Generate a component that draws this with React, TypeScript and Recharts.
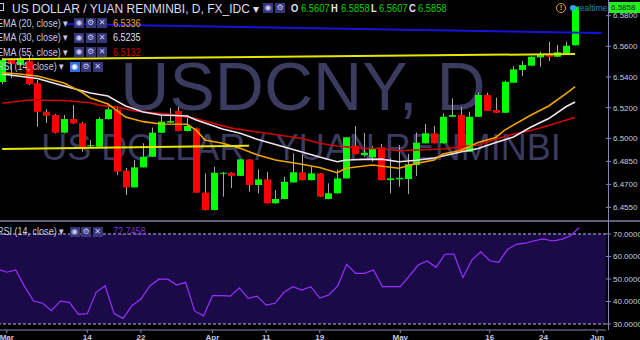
import React from "react";
import {
  ComposedChart,
  LineChart,
  Bar,
  Line,
  XAxis,
  YAxis,
  ReferenceLine,
  ReferenceArea,
} from "recharts";

// daily candles, one slot per weekday (Feb 29 .. May 30)
const opens = [
  6.5367, 6.5511, 6.5478, 6.5504, 6.5359, 6.5174, 6.5152, 6.5037, 6.5126, 6.5098,
  6.4952, 6.4946, 6.5126, 6.5189, 6.4789, 6.4681, 6.4811, 6.488, 6.5037, 6.5103,
  6.5178, 6.5048, 6.5065, 6.4646, 6.4533, 6.4771, 6.4776, 6.4756, 6.4863, 6.4696,
  6.4733, 6.4577, 6.4605, 6.4713, 6.4779, 6.4728, 6.4772, 6.4605, 6.4642, 6.4739,
  6.4952, 6.4891, 6.4876, 6.4942, 6.4728, 6.4733, 6.4735, 6.4826, 6.4968, 6.5033,
  6.4968, 6.5141, 6.5152, 6.4913, 6.5141, 6.5283, 6.5185, 6.5167, 6.5363, 6.5446,
  6.5474, 6.5528, 6.5543, 6.5532, 6.5554, 6.5607,
];
const highs = [
  6.5524, 6.5524, 6.553, 6.5543, 6.538, 6.5191, 6.5159, 6.5152, 6.5217, 6.5107,
  6.4989, 6.5139, 6.5217, 6.5208, 6.4807, 6.4859, 6.4968, 6.5071, 6.5152, 6.5198,
  6.5206, 6.5152, 6.5071, 6.4772, 6.4815, 6.4781, 6.4779, 6.4865, 6.4865, 6.4798,
  6.4782, 6.4663, 6.475, 6.4902, 6.4898, 6.4815, 6.4774, 6.4707, 6.4798, 6.5009,
  6.508, 6.5035, 6.495, 6.4963, 6.487, 6.4957, 6.4898, 6.5039, 6.5094, 6.508,
  6.5163, 6.5261, 6.5206, 6.5174, 6.5298, 6.5298, 6.5265, 6.5376, 6.5472, 6.5504,
  6.5535, 6.5565, 6.563, 6.5609, 6.563, 6.586,
];
const lows = [
  6.5354, 6.5393, 6.5472, 6.5348, 6.5076, 6.51, 6.5032, 6.5032, 6.5094, 6.4913,
  6.4937, 6.4944, 6.5123, 6.4761, 6.4631, 6.468, 6.481, 6.4878, 6.5035, 6.51,
  6.5045, 6.5045, 6.4644, 6.453, 6.453, 6.462, 6.4676, 6.4754, 6.4652, 6.4642,
  6.4575, 6.4575, 6.4603, 6.4712, 6.4725, 6.4726, 6.4618, 6.4603, 6.464, 6.4738,
  6.4896, 6.488, 6.4848, 6.4726, 6.4642, 6.4685, 6.4637, 6.4754, 6.4966, 6.4966,
  6.4966, 6.5139, 6.4917, 6.4911, 6.5139, 6.5178, 6.5165, 6.5165, 6.5361, 6.5406,
  6.5472, 6.5467, 6.5504, 6.553, 6.5553, 6.5605,
];
const closes = [
  6.5511, 6.5485, 6.5511, 6.5354, 6.5174, 6.5148, 6.5037, 6.5126, 6.5098, 6.4935,
  6.4955, 6.5126, 6.5189, 6.4783, 6.4681, 6.4811, 6.488, 6.5037, 6.5109, 6.5113,
  6.5048, 6.5081, 6.4646, 6.4533, 6.4776, 6.4776, 6.4756, 6.4863, 6.4696, 6.4733,
  6.4577, 6.4605, 6.4717, 6.4779, 6.4728, 6.4772, 6.462, 6.4642, 6.4739, 6.5007,
  6.4898, 6.4906, 6.4935, 6.4728, 6.4739, 6.4743, 6.4831, 6.4972, 6.5033, 6.4968,
  6.5141, 6.5152, 6.4919, 6.5141, 6.5283, 6.518, 6.5167, 6.5369, 6.545, 6.5478,
  6.5532, 6.5543, 6.5532, 6.5561, 6.5604, 6.5858,
];

const rsiValues = [
  54.4, 53.0, 54.0, 46.6, 40.2, 39.2, 35.9, 40.2, 39.6, 34.3,
  34.6, 44.1, 47.0, 34.6, 32.5, 38.1, 41.1, 46.9, 49.9, 49.9,
  47.3, 48.5, 35.8, 33.6, 42.6, 42.6, 42.4, 46.1, 41.4, 42.4,
  38.4, 39.2, 44.1, 46.6, 45.1, 46.6, 41.5, 42.9, 46.9, 56.5,
  52.5, 52.5, 54.0, 46.6, 46.6, 46.6, 51.3, 56.2, 58.0, 55.2,
  61.0, 61.1, 50.6, 58.4, 62.1, 58.1, 57.4, 63.2, 65.4, 65.9,
  67.0, 67.8, 66.9, 67.6, 69.1, 72.75,
];

// moving averages, read at the slots listed
const ema20Idx = [0, 2, 4, 7, 9, 10, 12, 14, 16, 18, 21, 22, 23, 25, 27, 29, 31, 34, 36, 38, 39, 42, 45, 47, 49, 50, 52, 54, 56, 57, 60, 62, 64, 65];
const ema20Val = [6.5428, 6.542, 6.5407, 6.5361, 6.5302, 6.5263, 6.5224, 6.5139, 6.5109, 6.5094, 6.5092, 6.5054, 6.4989, 6.4968, 6.4935, 6.4891, 6.4859, 6.4831, 6.481, 6.4776, 6.4805, 6.4826, 6.4805, 6.4837, 6.4859, 6.4898, 6.4921, 6.4973, 6.5006, 6.5054, 6.5152, 6.5211, 6.5294, 6.5337];
const ema30Idx = [0, 4, 7, 10, 12, 13, 14, 16, 18, 21, 22, 23, 25, 27, 29, 32, 34, 36, 38, 39, 41, 43, 45, 47, 49, 52, 54, 56, 58, 60, 62, 64, 65];
const ema30Val = [6.542, 6.539, 6.5341, 6.5296, 6.5276, 6.5243, 6.5211, 6.5172, 6.5152, 6.5146, 6.512, 6.51, 6.5061, 6.5033, 6.4992, 6.4944, 6.4911, 6.4878, 6.4848, 6.4859, 6.4863, 6.4865, 6.4848, 6.4857, 6.4872, 6.4911, 6.4934, 6.4973, 6.5009, 6.5074, 6.5129, 6.5208, 6.5237];
const ema55Idx = [0, 3, 7, 10, 11, 13, 15, 19, 22, 23, 26, 30, 34, 36, 38, 41, 43, 45, 47, 50, 52, 54, 56, 58, 60, 62, 64, 65];
const ema55Val = [6.5229, 6.525, 6.5247, 6.5232, 6.5217, 6.5204, 6.5178, 6.5157, 6.5129, 6.5113, 6.5067, 6.5033, 6.4999, 6.4968, 6.495, 6.4935, 6.4934, 6.4919, 6.4924, 6.4931, 6.4946, 6.4957, 6.4994, 6.5028, 6.5051, 6.5084, 6.512, 6.5136];

// drawn trend lines (slot, price)
const upperLineIdx = [0, 65];
const upperLineVal = [6.5515, 6.555];
const lowerLineIdx = [0, 28];
const lowerLineVal = [6.4931, 6.4952];
const blueLineIdx = [7, 68];
const blueLineVal = [6.5746, 6.5687];

const priceTicks = [6.455, 6.47, 6.485, 6.5, 6.52, 6.54, 6.56, 6.58];
const rsiTicks = [30, 40, 50, 60, 70];
const dateTickIdx = [1, 10, 16, 24, 30, 36, 45, 55, 61, 67];
const dateTickLabels = ["Mar", "14", "22", "Apr", "11", "19", "May", "16", "24", "Jun"];
const SLOTS = 69;

const pick = (idx: number[], val: number[], i: number) => {
  const k = idx.indexOf(i);
  return k < 0 ? null : val[k];
};

const data = Array.from({ length: SLOTS }, (_, i) => ({
  i,
  o: opens[i] ?? null,
  h: highs[i] ?? null,
  l: lows[i] ?? null,
  c: closes[i] ?? null,
  rsi: rsiValues[i] ?? null,
  e20: pick(ema20Idx, ema20Val, i),
  e30: pick(ema30Idx, ema30Val, i),
  e55: pick(ema55Idx, ema55Val, i),
  tu: pick(upperLineIdx, upperLineVal, i),
  tl: pick(lowerLineIdx, lowerLineVal, i),
  tb: pick(blueLineIdx, blueLineVal, i),
}));

const AXIS = "#8585b5";
const LABEL = "#c8c8e4";
const FONT = "'Liberation Sans', Arial, sans-serif";

function Candle(props: any) {
  const { x, y, width, height, payload } = props;
  if (!payload || payload.o == null) return null;
  const { o, h, l, c } = payload;
  const top = Math.min(y, y + height);
  const bottom = Math.max(y, y + height);
  const k = (bottom - top) / (h - l);
  const cx = Math.round(x + width / 2) + 0.5;
  const yO = top + (h - o) * k;
  const yC = top + (h - c) * k;
  const bTop = Math.min(yO, yC);
  const bH = Math.max(1, Math.abs(yO - yC));
  return (
    <g>
      <line x1={cx} x2={cx} y1={top} y2={bottom} stroke="#a8a8a8" strokeWidth={1} />
      <rect x={cx - 3.5} y={bTop} width={7} height={bH} fill={c >= o ? "#00ff00" : "#ff0000"} />
    </g>
  );
}

function Txt({ x, y, size = 11, color = LABEL, bold = false, sx = 1, children }: any) {
  return (
    <div
      style={{
        position: "absolute",
        left: x,
        top: y,
        fontSize: size,
        lineHeight: `${size}px`,
        color,
        fontWeight: bold ? 700 : 400,
        whiteSpace: "nowrap",
        transform: `scaleX(${sx})`,
        transformOrigin: "0 0",
      }}
    >
      {children}
    </div>
  );
}

function Btn({ x, y, glyph, active = false, dim = false }: any) {
  return (
    <div
      style={{
        position: "absolute",
        left: x,
        top: y,
        width: 10,
        height: 10,
        background: active ? "#2f6fe0" : "#36367a",
        opacity: dim ? 0.75 : 1,
        color: active ? "#ffffff" : "#c8c8f0",
        fontSize: 8,
        lineHeight: "10px",
        textAlign: "center",
        fontFamily: "'DejaVu Sans', sans-serif",
      }}
    >
      {glyph}
    </div>
  );
}

function LegendRow({ y, label, value, color, iconX = 74, active = false }: any) {
  return (
    <>
      <Txt x={-3} y={y - 5.5} size={11} sx={0.82}>
        {label} ▾
      </Txt>
      <Btn x={iconX} y={y - 5} glyph="◉" active={active} />
      <Btn x={iconX + 11.5} y={y - 5} glyph="⚙" />
      <Btn x={iconX + 23} y={y - 5} glyph="✕" />
      {value && (
        <Txt x={113} y={y - 5.5} size={11} sx={0.82} color={color}>
          {value}
        </Txt>
      )}
    </>
  );
}

const lineProps = { dot: false, activeDot: false, connectNulls: true, isAnimationActive: false } as const;

export default function App() {
  return (
    <div
      style={{
        position: "absolute",
        left: 0,
        top: 0,
        width: 640,
        height: 340,
        background: "#000",
        overflow: "hidden",
        fontFamily: FONT,
      }}
    >
      {/* watermark */}
      <svg width={640} height={220} style={{ position: "absolute", left: 0, top: 0 }}>
        <text x={303} y={110} fontSize={68} textAnchor="middle" fill="#3b3b5f" fontFamily={FONT}>
          USDCNY, D
        </text>
        <text x={301} y={160} fontSize={36} textAnchor="middle" fill="#3b3b5f" fontFamily={FONT}>
          US DOLLAR / YUAN RENMINBI
        </text>
      </svg>

      <div style={{ position: "absolute", left: 0, top: 0 }}>
        <ComposedChart width={640} height={220} data={data} margin={{ top: 0, right: 0, bottom: 0, left: -2.2 }}>
          <XAxis dataKey="i" hide />
          <YAxis
            orientation="right"
            width={34}
            domain={[6.4468, 6.5902]}
            allowDataOverflow
            ticks={priceTicks}
            tickFormatter={(v: number) => v.toFixed(4)}
            tick={{ fill: LABEL, fontSize: 8 }}
            axisLine={false}
            tickLine={{ stroke: AXIS }}
            tickSize={5}
            tickMargin={2}
          />
          <Bar
            dataKey={(d: any) => (d.o == null ? null : [d.l, d.h])}
            shape={Candle}
            activeBar={false}
            isAnimationActive={false}
          />
          <Line dataKey="e55" stroke="#d40000" strokeWidth={1.6} {...lineProps} />
          <Line dataKey="e30" stroke="#f2e4f0" strokeWidth={1.6} {...lineProps} />
          <Line dataKey="e20" stroke="#f0a400" strokeWidth={1.6} {...lineProps} />
          <Line dataKey="tu" stroke="#e6e600" strokeWidth={2} {...lineProps} />
          <Line dataKey="tl" stroke="#e6e600" strokeWidth={2} {...lineProps} />
          <Line dataKey="tb" stroke="#1414d8" strokeWidth={2} {...lineProps} />
        </ComposedChart>
      </div>

      {/* pane separator */}
      <div style={{ position: "absolute", left: 0, top: 219.5, width: 640, height: 2, background: "#5e5e7c" }} />

      <div style={{ position: "absolute", left: 0, top: 222 }}>
        <LineChart width={640} height={118} data={data} margin={{ top: 0, right: 0, bottom: 0, left: -2.2 }}>
          <ReferenceArea y1={30} y2={70} fill="#1a0a48" fillOpacity={1} stroke="none" />
          <ReferenceLine y={70} stroke="#bcbcdc" strokeDasharray="3 2" />
          <ReferenceLine y={30} stroke="#bcbcdc" strokeDasharray="3 2" />
          <XAxis
            dataKey="i"
            ticks={dateTickIdx}
            interval={0}
            tickFormatter={(v: number) => dateTickLabels[dateTickIdx.indexOf(v)]}
            height={10}
            tick={{ fill: LABEL, fontSize: 8, fontWeight: 700 }}
            stroke={AXIS}
            tickSize={3}
            tickMargin={1}
          />
          <YAxis
            orientation="right"
            width={34}
            domain={[27.33, 75.33]}
            allowDataOverflow
            ticks={rsiTicks}
            tickFormatter={(v: number) => v.toFixed(4)}
            tick={{ fill: LABEL, fontSize: 8 }}
            axisLine={false}
            tickLine={{ stroke: AXIS }}
            tickSize={5}
            tickMargin={2}
          />
          <Line dataKey="rsi" stroke="#9a30ff" strokeWidth={1.2} dot={false} activeDot={false} isAnimationActive={false} />
        </LineChart>
      </div>

      {/* price scale line */}
      <div style={{ position: "absolute", left: 607.5, top: 0, width: 1, height: 330, background: AXIS }} />

      {/* header */}
      <div style={{ position: "absolute", left: -4, top: 3, width: 8, height: 8, border: "1px solid #c8c8e4", boxSizing: "border-box" }} />
      <Txt x={12} y={2.5} size={12} color="#dcdcf0">
        US DOLLAR / YUAN RENMINBI, D, FX_IDC ▾
      </Txt>
      <Btn x={263} y={3} glyph="◉" />
      <Btn x={275} y={3} glyph="⚙" />
      <Txt x={291} y={3} size={11} bold sx={0.85} color="#e0e0ff">O</Txt>
      <Txt x={301} y={3} size={11} sx={0.85} color="#00d400">6.5607</Txt>
      <Txt x={331} y={3} size={11} bold sx={0.85} color="#e0e0ff">H</Txt>
      <Txt x={340.5} y={3} size={11} sx={0.85} color="#00d400">6.5858</Txt>
      <Txt x={371} y={3} size={11} bold sx={0.85} color="#e0e0ff">L</Txt>
      <Txt x={378.5} y={3} size={11} sx={0.85} color="#00d400">6.5607</Txt>
      <Txt x={409} y={3} size={11} bold sx={0.85} color="#e0e0ff">C</Txt>
      <Txt x={418} y={3} size={11} sx={0.85} color="#00d400">6.5858</Txt>

      <LegendRow y={23.3} label="EMA (20, close)" value="6.5336" color="#f0a400" />
      <LegendRow y={37.7} label="EMA (30, close)" value="6.5235" color="#e8dce8" />
      <LegendRow y={52.3} label="EMA (55, close)" value="6.5132" color="#d40000" />
      <LegendRow y={66.7} label="RSI (14, close)" iconX={69.5} active />

      <LegendRow y={231.7} label="RSI (14, close)" iconX={69.5} value="72.7458" color="#7a2ee0" />

      {/* realtime marker + last price */}
      <div style={{ position: "absolute", left: 556, top: 3, width: 10, height: 10, borderRadius: 6, border: "1.5px solid #f0a000", boxSizing: "border-box", color: "#f0a000", fontSize: 8, lineHeight: "7px", textAlign: "center", fontWeight: 700 }}>!</div>
      <div style={{ position: "absolute", left: 569.5, top: 5, width: 6, height: 6, borderRadius: 3, background: "#3aa0f0" }} />
      <Txt x={577} y={3.5} size={8.5} color="#2a86cc">realtime</Txt>
      <div style={{ position: "absolute", left: 609, top: 2, width: 31, height: 11, background: "#22ee22", color: "#103010", fontSize: 8, lineHeight: "11px", paddingLeft: 2, boxSizing: "border-box" }}>
        6.5858
      </div>
    </div>
  );
}
